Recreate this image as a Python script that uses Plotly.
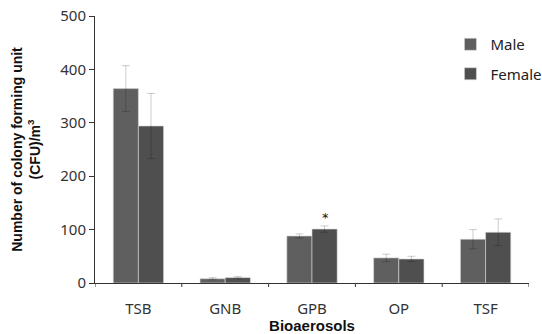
import plotly.graph_objects as go

categories = ["TSB", "GNB", "GPB", "OP", "TSF"]
male = [364, 8, 88, 47, 82]
male_err = [43, 2, 4, 7, 18]
female = [294, 10, 101, 45, 95]
female_err = [61, 2, 6, 5, 25]
sig_category = "GPB"
sig_label = "*"

fig = go.Figure()
fig.add_trace(go.Bar(
    name="Male", x=categories, y=male, legendgroup="m",
    marker=dict(color="#5f5f5f", line=dict(color="#d8d8d8", width=0.6)),
    error_y=dict(type="data", array=male_err, color="rgba(0,0,0,0.2)", thickness=1, width=4),
))
fig.add_trace(go.Bar(
    name="Female", x=categories, y=female, legendgroup="f",
    marker=dict(color="#4f4f4f", line=dict(color="#d8d8d8", width=0.6)),
    error_y=dict(type="data", array=female_err, color="rgba(0,0,0,0.2)", thickness=1, width=4),
))

i = categories.index(sig_category)
fig.add_annotation(x=i, xshift=13, y=female[i] + female_err[i], yshift=8,
                   text=sig_label, showarrow=False,
                   font=dict(family="DejaVu Sans", size=13, color="#111"))

fig.update_layout(
    width=542, height=334,
    margin=dict(l=95, r=13, t=16, b=51, autoexpand=False),
    paper_bgcolor="white", plot_bgcolor="white",
    barmode="group", bargap=0.42, bargroupgap=0,
    font=dict(family="Noto Sans", size=14, color="#333"),
    legend=dict(x=0.819, y=0.955, xanchor="left", yanchor="top",
                bgcolor="rgba(0,0,0,0)", font=dict(size=15, color="#222"),
                itemwidth=30, tracegroupgap=7, traceorder="grouped"),
    showlegend=True,
)
fig.update_xaxes(
    automargin=False,
    showline=True, linecolor="#333", linewidth=1,
    ticks="", tickfont=dict(size=15, color="#333"), ticklabelstandoff=12,
    title=dict(text="<b>Bioaerosols</b>", font=dict(family="Liberation Sans", size=15, color="#111"), standoff=0),
    range=[-0.5, 4.5],
)
fig.update_yaxes(
    automargin=False,
    range=[0, 500], tick0=0, dtick=100,
    showline=True, linecolor="#333", linewidth=1,
    ticks="outside", ticklen=5, tickcolor="#333",
    showgrid=False, zeroline=False,
    tickfont=dict(size=15, color="#333"),
    title=dict(text="<b>Number of colony forming unit<br>(CFU)/m<sup>3</sup></b>",
               font=dict(family="Liberation Sans", size=14, color="#111"), standoff=16),
)
for k in range(len(categories) + 1):
    fig.add_shape(type="line", xref="x", yref="paper", x0=k - 0.5, x1=k - 0.5,
                  y0=0, y1=-0.015, line=dict(color="#333", width=1))

fig.write_html("out.html", config={"displayModeBar": False},
               post_script="document.body.style.margin='0';document.body.style.padding='0';")
